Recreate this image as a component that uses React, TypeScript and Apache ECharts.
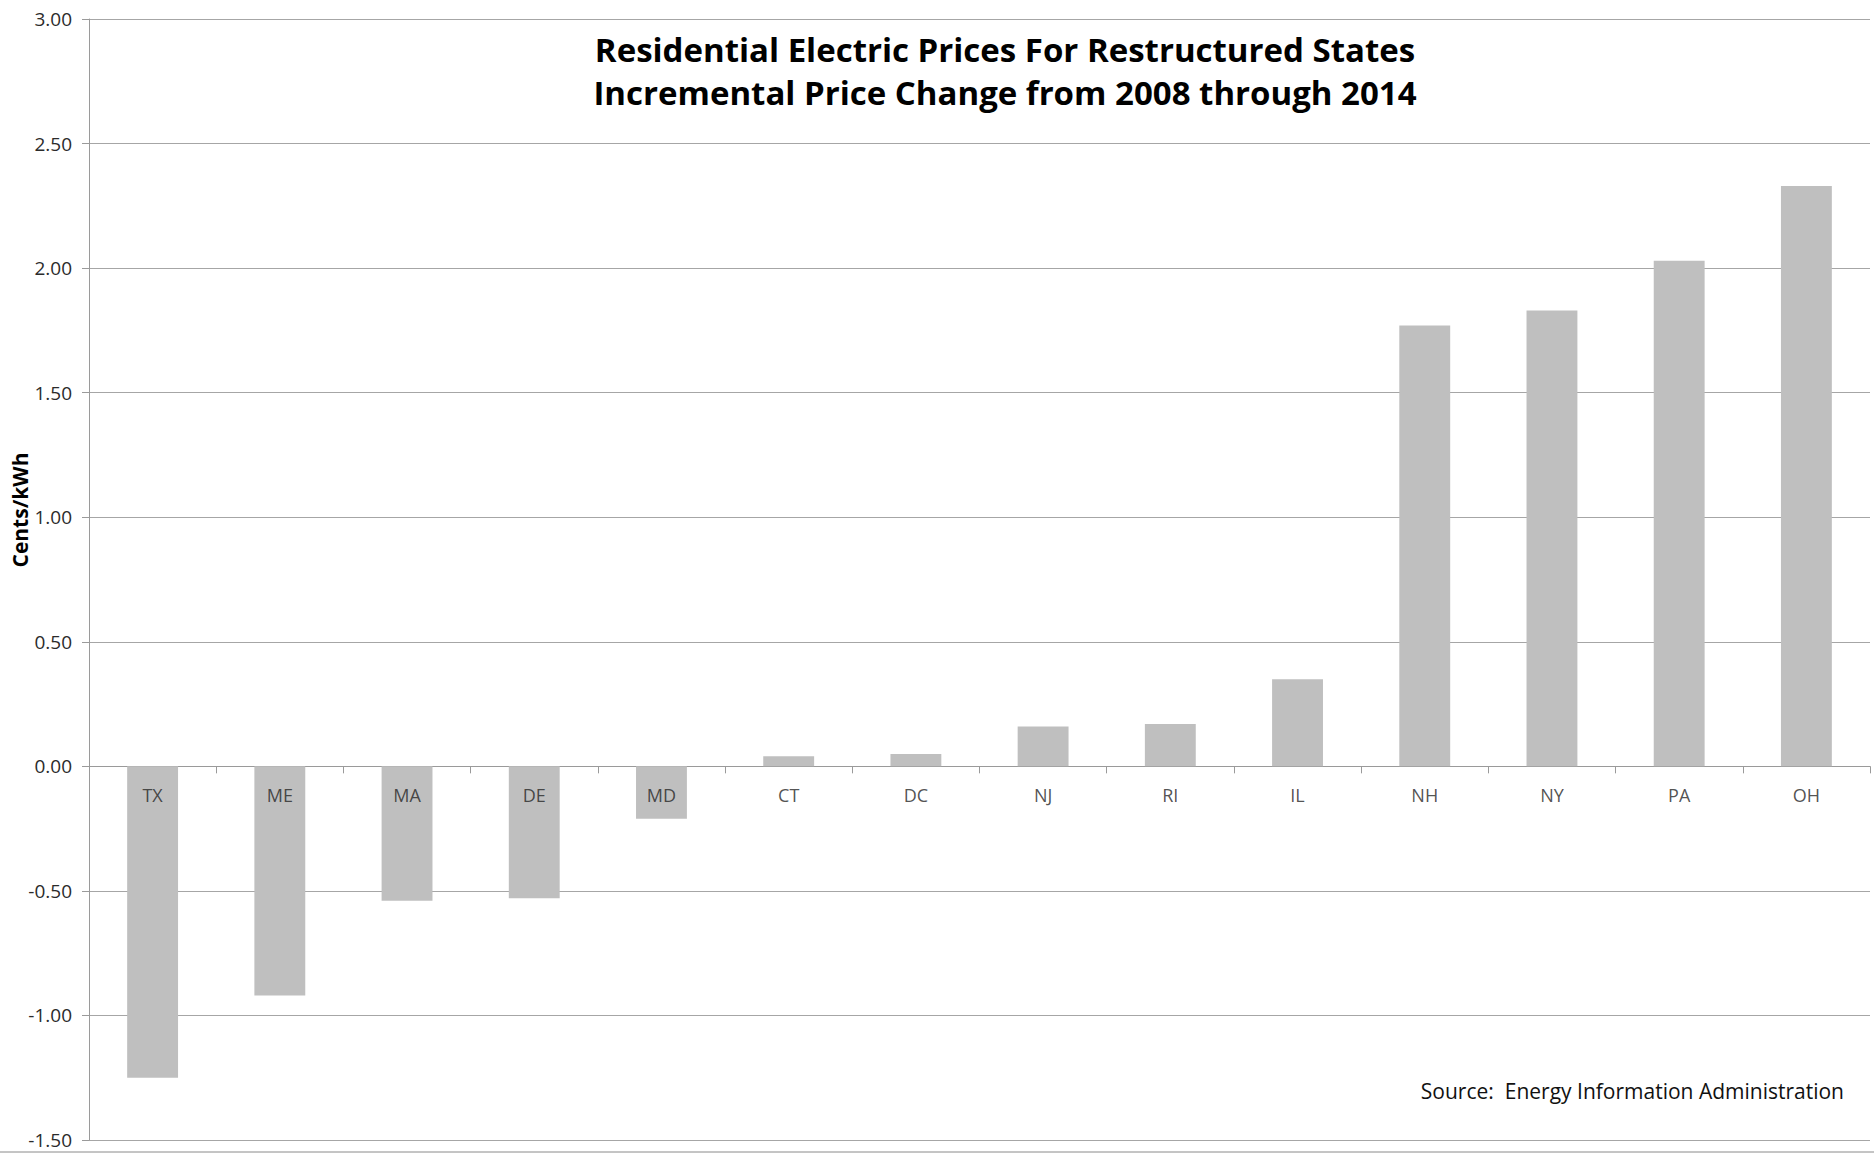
import React, { useEffect, useRef } from "react";
import * as echarts from "echarts";

const states = ["TX", "ME", "MA", "DE", "MD", "CT", "DC", "NJ", "RI", "IL", "NH", "NY", "PA", "OH"];
const priceChange = [-1.25, -0.92, -0.54, -0.53, -0.21, 0.04, 0.05, 0.16, 0.17, 0.35, 1.77, 1.83, 2.03, 2.33];
const titleLines = [
  "Residential Electric Prices For Restructured States",
  "Incremental Price Change from 2008 through 2014",
];
const yAxisName = "Cents/kWh";
const sourceNote = "Source:  Energy Information Administration";

const FONT = "'Open Sans', Lato, sans-serif";

export default function App() {
  const ref = useRef<HTMLDivElement>(null);
  useEffect(() => {
    const chart = echarts.init(ref.current!, null, { renderer: "svg" });
    // category labels sit on the zero line, as in the original chart
    const labelAnchors = states.map((s) => [s, 0]);
    chart.setOption({
      animation: false,
      backgroundColor: "#ffffff",
      grid: { left: 89, right: 4, top: 19, bottom: 13, containLabel: false, outerBoundsMode: "none" },
      xAxis: {
        type: "category",
        data: states,
        axisLine: { onZero: true, lineStyle: { color: "#9a9a9a", width: 1 } },
        axisTick: { show: true, interval: 0, length: 7, inside: false, lineStyle: { color: "#9a9a9a" } },
        axisLabel: { show: false },
        splitLine: { show: false },
      },
      yAxis: {
        type: "value",
        min: -1.5,
        max: 3,
        interval: 0.5,
        axisLine: { show: true, lineStyle: { color: "#9a9a9a", width: 1 } },
        axisTick: { show: true, length: 7, lineStyle: { color: "#9a9a9a" } },
        axisLabel: {
          margin: 17,
          color: "#2b2b2b",
          fontSize: 19,
          fontFamily: FONT,
          formatter: (v: number) => v.toFixed(2),
        },
        splitLine: { show: true, lineStyle: { color: "#a6a6a6", width: 1 } },
      },
      series: [
        {
          type: "bar",
          data: priceChange,
          barWidth: "40%",
          itemStyle: { color: "#bfbfbf" },
        },
        {
          type: "scatter",
          data: labelAnchors,
          symbolSize: 0,
          z: 10,
          silent: true,
          label: {
            show: true,
            position: "bottom",
            distance: 19,
            formatter: (p: any) => p.value[0],
            color: "#262626",
            fontSize: 18,
            lineHeight: 20,
            fontFamily: FONT,
          },
        },
      ],
      graphic: [
        {
          type: "text",
          x: 1005,
          y: 49,
          style: {
            text: titleLines[0],
            font: `bold 33px ${FONT}`,
            fill: "#000000",
            textAlign: "center",
            textVerticalAlign: "middle",
          },
        },
        {
          type: "text",
          x: 1005,
          y: 92,
          style: {
            text: titleLines[1],
            font: `bold 33px ${FONT}`,
            fill: "#000000",
            textAlign: "center",
            textVerticalAlign: "middle",
          },
        },
        {
          type: "text",
          x: 20,
          y: 510,
          rotation: Math.PI / 2,
          style: {
            text: yAxisName,
            font: `bold 21px ${FONT}`,
            fill: "#000000",
            textAlign: "center",
            textVerticalAlign: "middle",
          },
        },
        {
          type: "text",
          x: 1844,
          y: 1091,
          style: {
            text: sourceNote,
            font: `21px ${FONT}`,
            fill: "#111111",
            textAlign: "right",
            textVerticalAlign: "middle",
          },
        },
        {
          type: "line",
          shape: { x1: 0, y1: 1152, x2: 1874, y2: 1152 },
          style: { stroke: "#8a8a8a", lineWidth: 1 },
        },
      ],
    });
    return () => chart.dispose();
  }, []);
  return (
    <div
      ref={ref}
      style={{ position: "fixed", left: 0, top: 0, width: 1874, height: 1153, background: "#fff" }}
    />
  );
}
